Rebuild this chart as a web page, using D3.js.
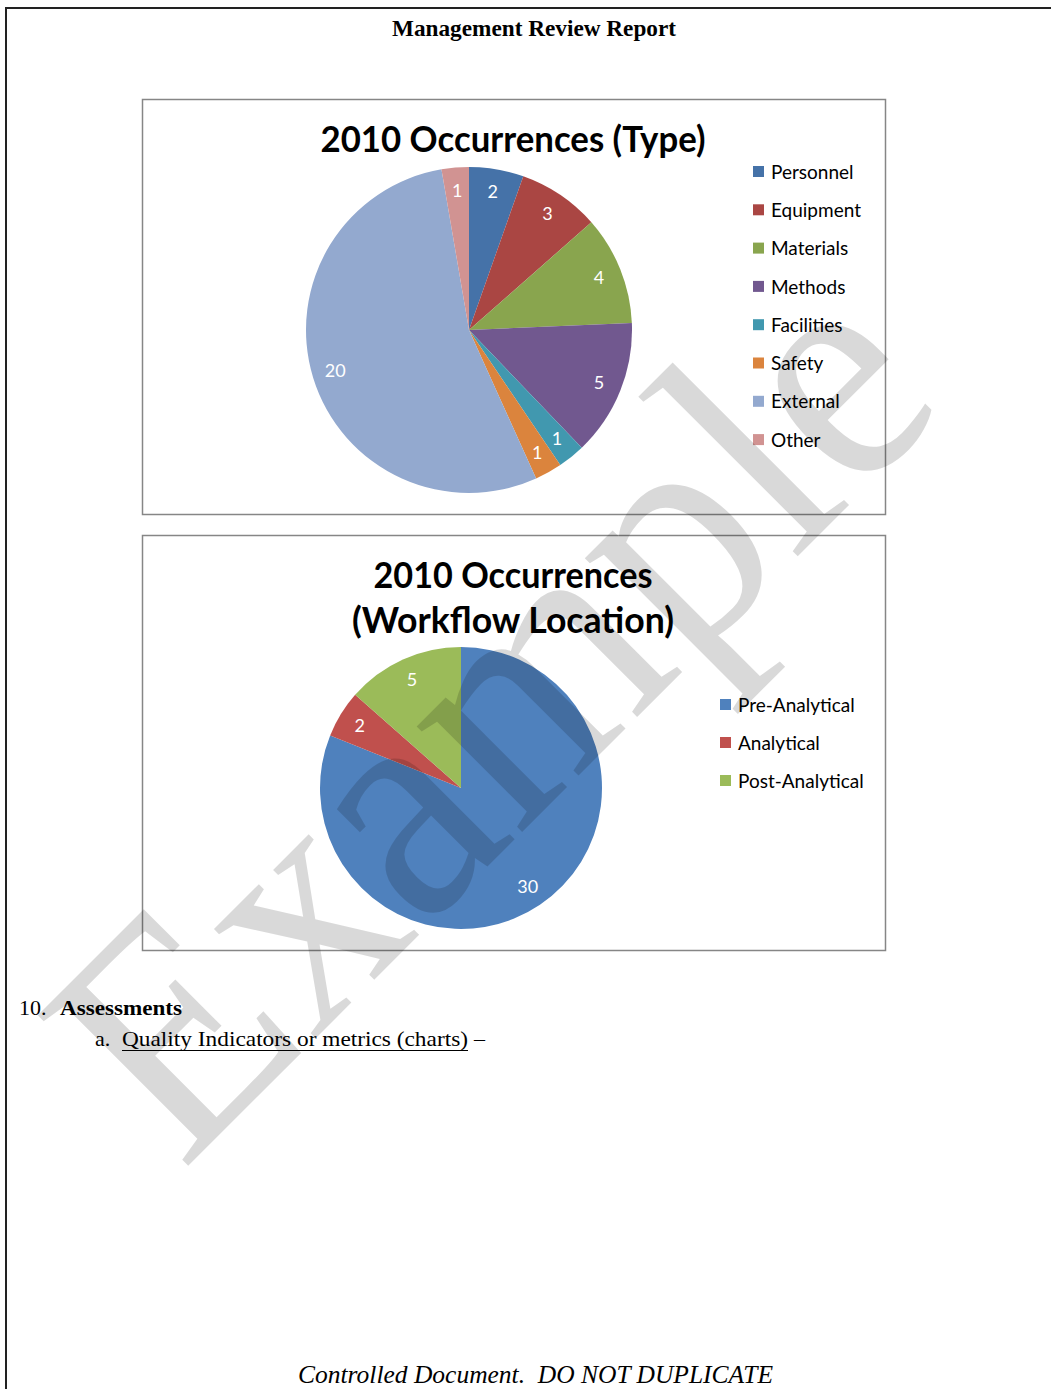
<!DOCTYPE html>
<meta charset="utf-8">
<script src="https://d3js.org/d3.v7.min.js"></script>
<style>
  body { margin: 0; background: #fff; }
</style>
<body>
<div id="page"></div>
<script>

// chart data
var typeCategories = ["Personnel", "Equipment", "Materials", "Methods", "Facilities", "Safety", "External", "Other"];
var typeValues = [2, 3, 4, 5, 1, 1, 20, 1];
var typeColors = ["#4572a8", "#aa4643", "#89a54e", "#71588f", "#4198af", "#db843d", "#93a9cf", "#d19392"];

var locCategories = ["Pre-Analytical", "Analytical", "Post-Analytical"];
var locValues = [30, 2, 5];
var locColors = ["#4f81bd", "#c0504d", "#9bbb59"];

var width = 1051, height = 1389;
var serif = "'Liberation Serif', 'Times New Roman', serif";
var sans = "Lato, 'Open Sans', sans-serif";

var svg = d3.select("#page")
  .append("svg")
    .attr("width", width)
    .attr("height", height);

// page frame (top + left rule)
svg.append("path")
  .attr("d", "M6," + height + "V8H" + width)
  .attr("fill", "none")
  .attr("stroke", "#222")
  .attr("stroke-width", 2);

svg.append("text")
  .attr("x", 534).attr("y", 36)
  .attr("text-anchor", "middle")
  .attr("font-family", serif)
  .attr("font-weight", "bold")
  .attr("font-size", 23)
  .attr("textLength", 284).attr("lengthAdjust", "spacingAndGlyphs")
  .text("Management Review Report");

function drawPie(opts) {
  var g = svg.append("g");

  // chart area border
  g.append("rect")
    .attr("x", opts.box[0] + 0.5).attr("y", opts.box[1] + 0.5)
    .attr("width", opts.box[2]).attr("height", opts.box[3])
    .attr("fill", "#fff")
    .attr("stroke", "#868686")
    .attr("stroke-width", 1.5);

  opts.title.forEach(function(t) {
    g.append("text")
      .attr("x", 513).attr("y", t.y)
      .attr("text-anchor", "middle")
      .attr("font-family", sans)
      .attr("font-weight", "bold")
      .attr("font-size", 37)
      .attr("textLength", t.w).attr("lengthAdjust", "spacingAndGlyphs")
      .attr("fill", "#000")
      .text(t.text);
  });

  var pie = d3.pie().sort(null).value(function(d) { return d; });
  var arcs = pie(opts.values);
  var arc = d3.arc().innerRadius(0).outerRadius(opts.r);
  var labelArc = d3.arc().innerRadius(opts.labelR).outerRadius(opts.labelR);

  var pg = g.append("g")
    .attr("transform", "translate(" + opts.cx + "," + opts.cy + ")");

  pg.selectAll("path")
    .data(arcs)
    .enter()
    .append("path")
      .attr("d", arc)
      .attr("fill", function(d, i) { return opts.colors[i]; });

  pg.selectAll("text")
    .data(arcs)
    .enter()
    .append("text")
      .attr("transform", function(d) { return "translate(" + labelArc.centroid(d) + ")"; })
      .attr("dy", "0.35em")
      .attr("text-anchor", "middle")
      .attr("font-family", sans)
      .attr("font-size", 18)
      .attr("fill", "#fff")
      .text(function(d) { return d.data; });

  // legend
  var leg = g.selectAll(".leg")
    .data(opts.categories)
    .enter()
    .append("g")
      .attr("transform", function(d, i) {
        return "translate(" + opts.legX + "," + (opts.legY + i * opts.legStep) + ")";
      });
  leg.append("rect")
    .attr("x", 0).attr("y", -6)
    .attr("width", 11).attr("height", 11)
    .attr("fill", function(d, i) { return opts.colors[i]; });
  leg.append("text")
    .attr("x", 18).attr("y", 0)
    .attr("dy", "0.35em")
    .attr("font-family", sans)
    .attr("font-size", 19)
    .attr("fill", "#000")
    .text(function(d) { return d; });
}

drawPie({
  box: [142, 99, 743, 415],
  title: [{text: "2010 Occurrences (Type)", y: 152, w: 385}],
  categories: typeCategories, values: typeValues, colors: typeColors,
  cx: 469, cy: 330, r: 163, labelR: 140,
  legX: 753, legY: 172, legStep: 38.3
});

drawPie({
  box: [142, 535, 743, 415],
  title: [{text: "2010 Occurrences", y: 588, w: 279}, {text: "(Workflow Location)", y: 633, w: 322}],
  categories: locCategories, values: locValues, colors: locColors,
  cx: 461, cy: 788, r: 141, labelR: 119,
  legX: 720, legY: 705, legStep: 38
});

// body text
var body = svg.append("g")
  .attr("font-family", serif)
  .attr("font-size", 22)
  .attr("fill", "#000");

body.append("text").attr("x", 19).attr("y", 1015).text("10.");
body.append("text").attr("x", 60).attr("y", 1015)
  .attr("font-weight", "bold")
  .attr("textLength", 122).attr("lengthAdjust", "spacingAndGlyphs")
  .text("Assessments");
body.append("text").attr("x", 95).attr("y", 1046).text("a.");
body.append("text").attr("x", 122).attr("y", 1046)
  .attr("textLength", 346).attr("lengthAdjust", "spacingAndGlyphs")
  .text("Quality Indicators or metrics (charts)");
body.append("line")
  .attr("x1", 122).attr("x2", 468)
  .attr("y1", 1050.5).attr("y2", 1050.5)
  .attr("stroke", "#000").attr("stroke-width", 1);
body.append("text").attr("x", 474).attr("y", 1046).text("\u2013");

svg.append("text")
  .attr("x", 298).attr("y", 1383)
  .attr("font-family", serif)
  .attr("font-style", "italic")
  .attr("font-size", 25)
  .attr("textLength", 475).attr("lengthAdjust", "spacingAndGlyphs")
  .style("white-space", "pre")
  .text("Controlled Document.  DO NOT DUPLICATE");

// watermark
svg.append("text")
  .attr("transform", "translate(182,1172) rotate(-45)")
  .attr("font-family", serif)
  .attr("font-size", 325)
  .attr("textLength", 1085).attr("lengthAdjust", "spacingAndGlyphs")
  .attr("fill", "#000")
  .attr("fill-opacity", 0.15)
  .style("pointer-events", "none")
  .text("Example");

</script>
</body>
